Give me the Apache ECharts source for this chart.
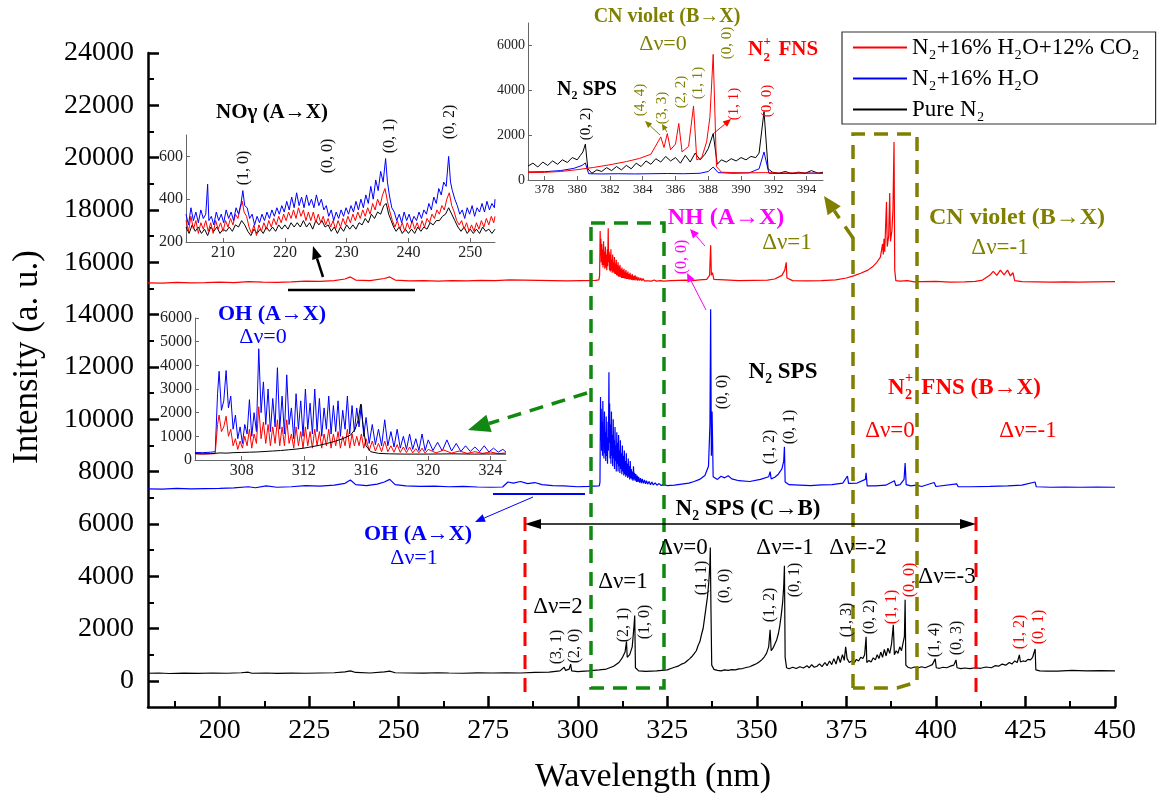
<!DOCTYPE html>
<html>
<head>
<meta charset="utf-8">
<script src="https://cdn.jsdelivr.net/npm/echarts@6/dist/echarts.min.js"></script>
<style>
  html, body { margin: 0; padding: 0; background: #fff; }
  #main { width: 1162px; height: 799px; }
</style>
</head>
<body>
<div id="main"></div>
<script>
// axis ticks
var wlTicks = [200, 225, 250, 275, 300, 325, 350, 375, 400, 425, 450];
var wlMinor = [187.5, 212.5, 237.5, 262.5, 287.5, 312.5, 337.5, 362.5, 387.5, 412.5, 437.5];
var intTicks = [0, 2000, 4000, 6000, 8000, 10000, 12000, 14000, 16000, 18000, 20000, 22000, 24000];
var intMinor = [1000, 3000, 5000, 7000, 9000, 11000, 13000, 15000, 17000, 19000, 21000, 23000];
var noTicksX = [210, 220, 230, 240, 250];
var noTicksY = [200, 400, 600];
var ohTicksX = [308, 312, 316, 320, 324];
var ohTicksY = [0, 1000, 2000, 3000, 4000, 5000, 6000];
var cnTicksX = [378, 380, 382, 384, 386, 388, 390, 392, 394];
var cnTicksY = [0, 2000, 4000, 6000];

var names = ['N₂+16% H₂O+12% CO₂', 'N₂+16% H₂O', 'Pure N₂'];

// main spectra  [wavelength nm, intensity]
var co2Main = [[180,15210],[184,15200],[188,15230],[192,15210],[196,15220],[200,15240],[204,15220],[208,15260],[212,15240],[216,15230],[220,15250],[224,15280],[228,15270],[232,15300],[235,15360],[236.5,15440],[238,15320],[242,15300],[246,15380],[247.5,15440],[249,15320],[253,15290],[257,15300],[261,15280],[265,15300],[269,15290],[273,15310],[277,15300],[281,15330],[285,15320],[289,15310],[293,15300],[297,15290],[301,15300],[305,15310],[305.9,15330],[306.1,15500],[306.25,17200],[306.35,16300],[306.45,16900],[306.55,16000],[306.7,16700],[306.8,15900],[306.95,16500],[307.05,15800],[307.2,16800],[307.3,15900],[307.45,16400],[307.55,15750],[307.7,16600],[307.8,15800],[307.95,16300],[308.1,15700],[308.25,16500],[308.35,15850],[308.5,17300],[308.6,16000],[308.75,16400],[308.85,15700],[309.0,16300],[309.1,15650],[309.25,16500],[309.35,15700],[309.5,16100],[309.6,15600],[309.75,16300],[309.85,15650],[310.0,16000],[310.1,15600],[310.25,16200],[310.35,15550],[310.5,15950],[310.6,15550],[310.75,16100],[310.85,15500],[311.0,15900],[311.1,15500],[311.25,16000],[311.35,15450],[311.5,15850],[311.65,15450],[311.8,15900],[311.9,15450],[312.05,15750],[312.2,15400],[312.35,15800],[312.45,15400],[312.6,15700],[312.75,15400],[312.9,15750],[313.0,15380],[313.15,15650],[313.3,15380],[313.45,15700],[313.55,15360],[313.7,15600],[313.85,15360],[314.0,15650],[314.15,15350],[314.3,15550],[314.45,15340],[314.6,15600],[314.75,15340],[314.9,15500],[315.05,15330],[315.2,15550],[315.4,15320],[315.6,15480],[315.8,15320],[316.0,15500],[316.25,15310],[316.5,15450],[316.75,15300],[317.0,15420],[317.3,15300],[317.6,15400],[317.9,15290],[318.2,15380],[318.6,15290],[319.0,15360],[319.5,15290],[320,15340],[320.6,15280],[321.3,15320],[322,15280],[323,15300],[324,15280],[326,15300],[328,15310],[330,15320],[332,15300],[334,15330],[336,15350],[336.8,15500],[337.1,16650],[337.3,15500],[337.6,15600],[338,15350],[341,15330],[345,15300],[349,15310],[353,15320],[355,15360],[357,15500],[357.8,15700],[358.2,16000],[358.4,15400],[360,15300],[364,15290],[368,15300],[372,15330],[375,15400],[377,15480],[379,15580],[381,15700],[382.5,15850],[383.5,16000],[384.5,16200],[385.1,16700],[385.3,16300],[385.5,16900],[385.7,16400],[386.2,18300],[386.4,16600],[386.8,17000],[387.1,18650],[387.3,16800],[387.7,17200],[388.0,18000],[388.3,20600],[388.5,15700],[388.8,15300],[390,15280],[392,15300],[394,15250],[396,15260],[400,15270],[404,15240],[408,15250],[411,15270],[413,15320],[415,15500],[416,15650],[417,15500],[418,15700],[419,15520],[420,15700],[420.8,15480],[421.5,15600],[422,15300],[424,15260],[428,15250],[432,15240],[436,15250],[440,15240],[444,15250],[450,15260]];

var h2oMain = [[180,7340],[184,7330],[188,7360],[192,7340],[196,7350],[200,7360],[204,7380],[208,7420],[210,7380],[213,7450],[216,7400],[220,7420],[224,7460],[228,7440],[232,7480],[235,7550],[236.5,7680],[238,7500],[241,7460],[244,7520],[246,7600],[247.5,7700],[249,7500],[252,7450],[256,7430],[260,7440],[264,7420],[268,7430],[272,7410],[276,7400],[279,7410],[280.5,7600],[282,7560],[284,7620],[286,7540],[288,7580],[290,7500],[293,7460],[296,7450],[300,7420],[303,7430],[306.0,7450],[306.2,7600],[306.35,10850],[306.45,9200],[306.55,10400],[306.65,8800],[306.75,9900],[306.9,8600],[307.0,10700],[307.1,9000],[307.2,9700],[307.3,8500],[307.45,10300],[307.55,8700],[307.7,9500],[307.8,8400],[307.95,10100],[308.05,8600],[308.2,9300],[308.3,8300],[308.45,9900],[308.55,8800],[308.7,11800],[308.8,9100],[308.9,10600],[309.0,8500],[309.15,9800],[309.25,8300],[309.4,10300],[309.5,8600],[309.6,9400],[309.75,8200],[309.9,10000],[310.0,8500],[310.15,9200],[310.25,8100],[310.4,9700],[310.5,8400],[310.65,9000],[310.75,8000],[310.9,9500],[311.0,8300],[311.15,9100],[311.25,8000],[311.4,9400],[311.5,8200],[311.65,8800],[311.75,7950],[311.9,9200],[312.0,8100],[312.15,8700],[312.3,7900],[312.45,9000],[312.55,8000],[312.7,8600],[312.85,7850],[313.0,8800],[313.1,7900],[313.25,8400],[313.4,7800],[313.55,8700],[313.65,7850],[313.8,8300],[313.95,7750],[314.1,8500],[314.2,7800],[314.35,8200],[314.5,7700],[314.65,8400],[314.8,7750],[314.95,8100],[315.1,7700],[315.25,8000],[315.4,7650],[315.55,8200],[315.7,7700],[315.85,7950],[316.0,7650],[316.2,7900],[316.4,7600],[316.6,7850],[316.8,7600],[317.0,7800],[317.25,7580],[317.5,7750],[317.75,7560],[318.0,7720],[318.3,7550],[318.6,7680],[318.9,7530],[319.2,7650],[319.5,7520],[319.9,7620],[320.3,7500],[320.7,7600],[321.1,7490],[321.6,7570],[322.1,7480],[322.7,7540],[323.3,7470],[324,7520],[325,7460],[327,7480],[329,7520],[331,7560],[332.5,7620],[334,7700],[335.5,7850],[336.5,8200],[336.9,9800],[337.1,14200],[337.3,8600],[337.5,10300],[337.8,7800],[339,7700],[340,7820],[341,7760],[342,7840],[343,7720],[345,7650],[348,7620],[351,7700],[353.3,7800],[353.7,8000],[354,7720],[355,7780],[356,7900],[357,8100],[357.5,8400],[357.7,8950],[357.9,7600],[359,7500],[362,7480],[365,7460],[368,7490],[371,7500],[374,7560],[375.3,7830],[375.6,7550],[378,7560],[380.3,7700],[380.5,7950],[380.8,7450],[383,7450],[386,7480],[388.4,7650],[388.8,7460],[390,7500],[391.1,7700],[391.4,8330],[391.7,7500],[393,7450],[394.5,7480],[396,7430],[399.5,7580],[400,7430],[405.8,7530],[406.2,7420],[410,7420],[415,7430],[420,7450],[424,7480],[427.7,7600],[428,7420],[432,7400],[436,7410],[440,7400],[445,7410],[450,7400]];

var pureMain = [[180,290],[183,300],[186,280],[190,295],[194,285],[198,300],[202,290],[206,310],[208,330],[209,290],[213,300],[216,285],[220,295],[224,290],[228,300],[232,310],[235,340],[236.5,380],[238,320],[242,300],[246,340],[247.5,370],[249,310],[253,300],[257,295],[261,310],[264,300],[268,290],[272,305],[276,300],[280,310],[284,300],[288,320],[292,330],[295,380],[296.2,520],[296.6,400],[297.6,450],[298,640],[298.3,380],[300,350],[303,380],[306,420],[308,450],[310,560],[311.5,700],[312.5,900],[313.2,1100],[313.6,1500],[313.8,900],[314.5,1000],[315.2,1300],[315.7,2100],[315.9,2500],[316.1,500],[317,380],[319,360],[322,380],[325,420],[326,470],[327,520],[328,560],[329,640],[329.8,680],[330.5,760],[331.2,840],[331.8,920],[332.5,1040],[333.1,1150],[333.6,1350],[334.1,1500],[334.6,1800],[335.0,2000],[335.4,2400],[335.8,2800],[336.2,3200],[336.6,3800],[336.9,4500],[337.0,5100],[337.2,2600],[337.4,600],[338,440],[339,400],[340,380],[341,420],[342,400],[343,430],[344,420],[345,460],[346,470],[347,510],[348,540],[349,600],[350,660],[350.8,740],[351.5,820],[352.1,920],[352.7,1050],[353.3,1300],[353.7,1950],[354,1150],[354.5,1250],[355,1400],[355.5,1550],[356,1800],[356.4,2100],[356.8,2500],[357.2,3000],[357.5,3600],[357.7,4400],[357.9,900],[358.3,500],[359,460],[360,520],[361,470],[362,540],[363,490],[364,580],[364.6,500],[365.3,620],[366,520],[366.8,560],[367.5,650],[368.2,540],[369,700],[369.6,580],[370.3,760],[370.9,620],[371.5,850],[372.1,640],[372.7,950],[373.3,700],[373.9,1000],[374.4,780],[374.8,1300],[375.2,850],[375.8,700],[376.5,760],[377.2,680],[377.8,820],[378.4,760],[379,900],[379.6,850],[380.1,1000],[380.5,1680],[380.7,700],[381.3,780],[381.9,720],[382.5,880],[383.1,800],[383.6,1000],[384.1,850],[384.6,1100],[385.1,900],[385.6,1200],[386.1,950],[386.6,1250],[387.1,1050],[387.6,1400],[388.1,2140],[388.4,1000],[388.9,1150],[389.4,1050],[389.9,1300],[390.4,1150],[390.9,1500],[391.2,1700],[391.4,3100],[391.6,600],[392.2,520],[393,480],[394,530],[395,490],[396,540],[397,500],[398,560],[399,620],[399.8,840],[400.1,500],[401,480],[402,520],[403,500],[404,560],[405,600],[405.6,800],[405.9,500],[407,470],[408,490],[409.5,470],[411,500],[412.5,480],[414,530],[415.5,500],[416.5,580],[417.5,560],[418.5,640],[419.5,600],[420.5,700],[421.2,640],[422,760],[422.7,700],[423.3,990],[423.6,720],[424.3,760],[425,740],[425.7,820],[426.4,800],[427,900],[427.7,1220],[427.9,420],[429,380],[431,370],[434,370],[438,400],[442,380],[446,390],[450,380]];

// inset NO gamma (204-254 nm)
var h2oNO = [[204.0,330],[204.4,280],[204.8,360],[205.2,300],[205.6,340],[206.0,290],[206.4,350],[206.8,310],[207.2,330],[207.5,470],[207.7,300],[208.1,320],[208.5,280],[208.9,340],[209.3,300],[209.7,330],[210.1,290],[210.5,350],[210.9,310],[211.3,340],[211.7,300],[212.1,360],[212.5,330],[212.9,380],[213.2,440],[213.5,370],[213.9,360],[214.3,310],[214.7,330],[215.1,280],[215.5,320],[215.9,290],[216.3,330],[216.7,300],[217.1,340],[217.5,310],[217.9,350],[218.3,320],[218.7,360],[219.1,330],[219.5,370],[219.9,340],[220.3,390],[220.7,350],[221.1,410],[221.5,360],[221.9,430],[222.3,370],[222.7,410],[223.1,360],[223.5,420],[223.9,370],[224.3,400],[224.7,360],[225.1,420],[225.5,370],[225.9,400],[226.3,350],[226.7,370],[227.1,320],[227.5,350],[227.9,300],[228.3,340],[228.7,310],[229.1,350],[229.5,320],[229.9,360],[230.3,330],[230.7,370],[231.1,340],[231.5,390],[231.9,350],[232.3,400],[232.7,360],[233.1,420],[233.5,380],[233.9,460],[234.3,400],[234.7,490],[235.1,440],[235.5,530],[235.9,480],[236.3,590],[236.6,480],[236.9,420],[237.3,360],[237.7,340],[238.1,300],[238.5,330],[238.9,290],[239.3,340],[239.7,300],[240.1,330],[240.5,290],[240.9,320],[241.3,300],[241.7,340],[242.1,310],[242.5,350],[242.9,330],[243.3,380],[243.7,350],[244.1,410],[244.5,380],[244.9,450],[245.3,420],[245.7,480],[246.1,460],[246.5,600],[246.8,480],[247.1,440],[247.5,400],[247.9,370],[248.3,330],[248.7,350],[249.1,310],[249.5,360],[249.9,330],[250.3,370],[250.7,320],[251.1,360],[251.5,340],[251.9,380],[252.3,340],[252.7,390],[253.1,350],[253.5,380],[253.9,360],[254.0,400]];
var co2NO = [[204.0,300],[204.4,250],[204.8,320],[205.2,260],[205.6,300],[206.0,240],[206.4,290],[206.8,260],[207.2,300],[207.6,250],[208.0,290],[208.4,240],[208.8,300],[209.2,260],[209.6,290],[210.0,250],[210.4,300],[210.8,270],[211.2,310],[211.6,280],[212.0,330],[212.4,310],[212.8,360],[213.1,390],[213.4,340],[213.8,320],[214.2,270],[214.6,240],[215.0,280],[215.4,230],[215.8,280],[216.2,250],[216.6,290],[217.0,260],[217.4,300],[217.8,270],[218.2,310],[218.6,280],[219.0,320],[219.4,290],[219.8,330],[220.2,300],[220.6,340],[221.0,310],[221.4,350],[221.8,310],[222.2,360],[222.6,320],[223.0,350],[223.4,300],[223.8,340],[224.2,300],[224.6,340],[225.0,290],[225.4,330],[225.8,290],[226.2,320],[226.6,280],[227.0,310],[227.4,270],[227.8,300],[228.2,260],[228.6,300],[229.0,270],[229.4,310],[229.8,280],[230.2,320],[230.6,290],[231.0,330],[231.4,300],[231.8,340],[232.2,310],[232.6,350],[233.0,320],[233.4,360],[233.8,330],[234.2,380],[234.6,350],[235.0,400],[235.4,370],[235.8,420],[236.2,450],[236.6,390],[237.0,340],[237.4,300],[237.8,270],[238.2,300],[238.6,260],[239.0,290],[239.4,250],[239.8,290],[240.2,260],[240.6,300],[241.0,260],[241.4,290],[241.8,260],[242.2,300],[242.6,270],[243.0,310],[243.4,290],[243.8,330],[244.2,310],[244.6,350],[245.0,330],[245.4,370],[245.8,350],[246.2,400],[246.6,430],[247.0,370],[247.4,340],[247.8,300],[248.2,280],[248.6,300],[249.0,260],[249.4,290],[249.8,250],[250.2,280],[250.6,250],[251.0,290],[251.4,260],[251.8,300],[252.2,270],[252.6,310],[253.0,280],[253.4,320],[253.8,290],[254.0,320]];
var pureNO = [[204.0,270],[204.5,240],[205.0,280],[205.5,250],[206.0,270],[206.5,240],[207.0,260],[207.5,230],[208.0,270],[208.5,250],[209.0,270],[209.5,240],[210.0,260],[210.5,250],[211.0,270],[211.5,250],[212.0,280],[212.5,270],[213.0,300],[213.5,280],[214.0,250],[214.5,230],[215.0,260],[215.5,240],[216.0,260],[216.5,240],[217.0,270],[217.5,250],[218.0,270],[218.5,250],[219.0,280],[219.5,260],[220.0,280],[220.5,260],[221.0,290],[221.5,270],[222.0,290],[222.5,270],[223.0,300],[223.5,270],[224.0,290],[224.5,260],[225.0,300],[225.5,280],[226.0,300],[226.5,270],[227.0,280],[227.5,250],[228.0,270],[228.5,240],[229.0,270],[229.5,250],[230.0,280],[230.5,260],[231.0,280],[231.5,260],[232.0,290],[232.5,280],[233.0,310],[233.5,290],[234.0,330],[234.5,310],[235.0,340],[235.5,330],[236.0,370],[236.4,380],[236.8,330],[237.2,300],[237.6,270],[238.0,250],[238.5,270],[239.0,240],[239.5,260],[240.0,240],[240.5,260],[241.0,240],[241.5,270],[242.0,250],[242.5,270],[243.0,260],[243.5,290],[244.0,280],[244.5,300],[245.0,300],[245.5,320],[246.0,330],[246.5,360],[247.0,330],[247.5,300],[248.0,270],[248.5,250],[249.0,270],[249.5,240],[250.0,260],[250.5,240],[251.0,260],[251.5,240],[252.0,270],[252.5,250],[253.0,260],[253.5,240],[254.0,260]];

// inset OH A-X (305-325 nm)
var h2oOH = [[305,320],[305.5,310],[306,330],[306.3,350],[306.45,2800],[306.55,3750],[306.7,2100],[306.85,2500],[307.0,3780],[307.15,2200],[307.3,2700],[307.45,1300],[307.6,1900],[307.75,900],[307.9,1400],[308.05,700],[308.2,1500],[308.35,1100],[308.5,2550],[308.65,1000],[308.8,2000],[308.95,1200],[309.1,4700],[309.25,2000],[309.4,3300],[309.55,1500],[309.7,3000],[309.85,1200],[310.0,2600],[310.15,1400],[310.3,3900],[310.45,1300],[310.6,2700],[310.75,1100],[310.9,3600],[311.05,1500],[311.2,2200],[311.35,900],[311.5,2800],[311.65,1300],[311.8,2500],[311.95,1000],[312.1,3000],[312.25,1300],[312.4,2400],[312.55,1100],[312.7,3000],[312.85,1200],[313.0,2600],[313.15,1000],[313.3,2200],[313.45,1300],[313.6,2700],[313.75,1100],[313.9,2300],[314.05,1200],[314.2,2500],[314.35,1000],[314.5,2100],[314.65,1300],[314.8,2700],[314.95,1100],[315.1,2300],[315.25,1200],[315.4,2200],[315.55,1400],[315.7,2350],[315.85,1000],[316.0,1800],[316.2,700],[316.4,1500],[316.6,650],[316.8,1300],[317.0,600],[317.2,1700],[317.4,600],[317.6,1200],[317.8,550],[318.0,1300],[318.2,500],[318.4,1000],[318.6,450],[318.8,1100],[319.0,450],[319.2,900],[319.4,400],[319.6,1100],[319.8,400],[320.0,850],[320.3,400],[320.6,750],[320.9,380],[321.2,850],[321.5,380],[321.8,700],[322.1,360],[322.4,600],[322.7,360],[323.0,550],[323.3,350],[323.6,600],[323.9,340],[324.2,500],[324.5,330],[324.8,450],[325,330]];
var co2OH = [[305,260],[305.5,250],[306,260],[306.3,270],[306.45,1500],[306.55,1900],[306.7,1200],[306.85,1400],[307.0,1850],[307.15,1000],[307.3,1300],[307.45,600],[307.6,900],[307.75,450],[307.9,800],[308.05,500],[308.2,1000],[308.35,600],[308.5,1300],[308.65,500],[308.8,1100],[308.95,700],[309.1,2250],[309.25,900],[309.4,1600],[309.55,700],[309.7,1500],[309.85,600],[310.0,1400],[310.15,700],[310.3,1700],[310.45,600],[310.6,1400],[310.75,600],[310.9,1700],[311.05,700],[311.2,1100],[311.35,500],[311.5,1400],[311.65,600],[311.8,1200],[311.95,500],[312.1,1400],[312.25,600],[312.4,1200],[312.55,500],[312.7,1300],[312.85,600],[313.0,1200],[313.15,500],[313.3,1100],[313.45,600],[313.6,1300],[313.75,500],[313.9,1100],[314.05,600],[314.2,1200],[314.35,500],[314.5,1000],[314.65,600],[314.8,1300],[314.95,500],[315.1,1100],[315.25,600],[315.4,1000],[315.55,600],[315.7,1100],[315.85,500],[316.0,900],[316.2,400],[316.4,800],[316.6,380],[316.8,700],[317.0,350],[317.2,800],[317.4,350],[317.6,600],[317.8,330],[318.0,650],[318.2,320],[318.4,550],[318.6,310],[318.8,550],[319.0,300],[319.2,480],[319.4,300],[319.6,500],[319.8,290],[320.0,450],[320.5,300],[321,420],[321.5,290],[322,380],[322.5,280],[323,350],[323.5,280],[324,340],[324.5,270],[325,300]];
var pureOH = [[305,270],[305.5,260],[306,270],[306.3,280],[306.6,300],[307,290],[307.5,310],[308,320],[308.5,330],[309,340],[309.5,360],[310,380],[310.5,400],[311,430],[311.5,460],[312,500],[312.5,560],[313,620],[313.5,700],[314,790],[314.5,900],[315,1050],[315.3,1300],[315.5,1700],[315.65,2350],[315.8,1500],[316.0,600],[316.3,350],[316.8,280],[317.5,260],[318.5,250],[320,250],[321.5,260],[323,250],[324,255],[325,250]];

// inset CN violet (377-395 nm)
var pureCN = [[377,620],[377.3,750],[377.6,580],[377.9,800],[378.2,650],[378.5,850],[378.8,700],[379.1,900],[379.4,780],[379.7,1000],[380.0,900],[380.2,1100],[380.35,1250],[380.5,1600],[380.65,500],[380.9,300],[381.2,450],[381.5,380],[381.8,550],[382.1,420],[382.4,600],[382.7,450],[383.0,650],[383.3,500],[383.6,750],[383.9,600],[384.2,850],[384.5,700],[384.8,950],[385.1,800],[385.4,1050],[385.7,850],[386.0,1000],[386.3,750],[386.6,1100],[386.9,800],[387.2,1200],[387.5,900],[387.8,1150],[388.0,1400],[388.3,2070],[388.55,700],[388.8,900],[389.1,800],[389.4,950],[389.7,850],[390.0,1000],[390.3,900],[390.6,1050],[390.9,1000],[391.1,1200],[391.4,3050],[391.65,500],[391.9,350],[392.3,300],[392.7,380],[393.1,280],[393.5,350],[393.9,300],[394.3,420],[394.7,300],[395,350]];
var h2oCN = [[377,360],[378,370],[379,420],[379.8,520],[380.3,650],[380.5,760],[380.7,280],[381.5,270],[382.5,280],[383.5,270],[384.5,280],[385.5,290],[386.5,280],[387.5,300],[388.0,380],[388.3,580],[388.6,330],[389.5,300],[390.5,320],[391.1,500],[391.4,1250],[391.7,300],[392.5,290],[393.5,300],[394.5,310],[395,300]];
var co2CN = [[377,330],[378,340],[379,380],[380,460],[381,560],[382,680],[383,820],[383.8,960],[384.5,1150],[385.1,1920],[385.3,1450],[385.5,2070],[385.7,1350],[386.0,1600],[386.2,2520],[386.4,1250],[386.8,1500],[387.1,3300],[387.3,900],[387.6,1000],[387.9,1700],[388.1,2800],[388.3,5600],[388.5,600],[388.8,350],[389.5,330],[390.5,320],[391.5,330],[392.5,310],[393.5,320],[394.5,300],[395,310]];

var SERIF = '"Liberation Serif", "Times New Roman", serif';
var RED = '#ff0000', BLUE = '#0000ff', BLACK = '#000000';
var OLIVE = '#808000', GREEN = '#118811', MAGENTA = '#ff00ff';

function plain(v) { return String(v); }

function line(name, data, xi, yi, color, w) {
  return {
    name: name, type: 'line', data: data, xAxisIndex: xi, yAxisIndex: yi,
    showSymbol: false, symbol: 'none', animation: false,
    lineStyle: { color: color, width: w }, itemStyle: { color: color }
  };
}

function mainAxis(dim, min, max, ticks, minor, isMinor) {
  return {
    type: 'value', gridIndex: 0, min: min, max: max,
    position: dim === 'x' ? 'bottom' : 'left',
    splitLine: { show: false },
    axisLine: { show: !isMinor, onZero: false, lineStyle: { color: '#000', width: 2.5 } },
    axisTick: { inside: true, customValues: isMinor ? minor : ticks, length: isMinor ? 6 : 11,
      lineStyle: { color: '#000', width: isMinor ? 2 : 2.5 } },
    axisLabel: { show: !isMinor, customValues: ticks, formatter: plain, fontSize: 28,
      fontFamily: SERIF, color: '#000', margin: dim === 'x' ? 10 : 14 }
  };
}

function insetAxis(dim, grid, min, max, ticks, size) {
  return {
    type: 'value', gridIndex: grid, min: min, max: max,
    position: dim === 'x' ? 'bottom' : 'left',
    splitLine: { show: false },
    axisLine: { onZero: false, lineStyle: { color: '#666', width: 1 } },
    axisTick: { inside: true, length: 4, customValues: ticks, lineStyle: { color: '#666' } },
    axisLabel: { customValues: ticks, formatter: plain, fontSize: size, fontFamily: SERIF,
      color: '#222', margin: 3 }
  };
}

function txt(x, y, text, color, size, bold, rot) {
  return {
    type: 'text', x: x, y: y, rotation: rot ? Math.PI / 2 : 0, z: 100,
    style: { text: text, fill: color, fontSize: size, fontFamily: SERIF,
      fontWeight: bold ? 'bold' : 'normal', align: 'center', verticalAlign: 'middle' }
  };
}

function n2plus(x, y, rest, color, size) {
  var s = size * 0.62;
  return [
    { type: 'text', x: x, y: y, z: 100, style: { text: 'N', fill: color, fontSize: size, fontFamily: SERIF, fontWeight: 'bold', align: 'left', verticalAlign: 'middle' } },
    { type: 'text', x: x + size * 0.74, y: y - size * 0.4, z: 100, style: { text: '+', fill: color, fontSize: s, fontFamily: SERIF, fontWeight: 'bold', align: 'left', verticalAlign: 'middle' } },
    { type: 'text', x: x + size * 0.74, y: y + size * 0.34, z: 100, style: { text: '2', fill: color, fontSize: s, fontFamily: SERIF, fontWeight: 'bold', align: 'left', verticalAlign: 'middle' } },
    { type: 'text', x: x + size * 1.45, y: y, z: 100, style: { text: rest, fill: color, fontSize: size, fontFamily: SERIF, fontWeight: 'bold', align: 'left', verticalAlign: 'middle' } }
  ];
}

function arrow(x1, y1, x2, y2, color, w, len, half, dash) {
  var a = Math.atan2(y2 - y1, x2 - x1);
  var bx = x2 - len * Math.cos(a), by = y2 - len * Math.sin(a);
  var px = -Math.sin(a) * half, py = Math.cos(a) * half;
  return [
    { type: 'line', z: 100, shape: { x1: x1, y1: y1, x2: bx, y2: by },
      style: { stroke: color, lineWidth: w, lineDash: dash || null } },
    { type: 'polygon', z: 100, shape: { points: [[x2, y2], [bx + px, by + py], [bx - px, by - py]] },
      style: { fill: color } }
  ];
}

function seg(x1, y1, x2, y2, color, w, dash) {
  return { type: 'line', z: 100, shape: { x1: x1, y1: y1, x2: x2, y2: y2 },
    style: { stroke: color, lineWidth: w, lineDash: dash || null } };
}

var graphics = [
  // axis names
  txt(28, 357, 'Intensity (a. u.)', '#000', 35, false, true),
  txt(653, 777, 'Wavelength (nm)', '#000', 34, false, false),

  // NO inset annotations
  txt(272, 113, 'NOγ (A→X)', '#000', 21, true),
  txt(244, 168, '(1, 0)', '#111', 16, false, true),
  txt(328, 156, '(0, 0)', '#111', 16, false, true),
  txt(390, 136, '(0, 1)', '#111', 16, false, true),
  txt(450, 122, '(0, 2)', '#111', 16, false, true),
  seg(288, 290, 415, 290, '#000', 2.5),

  // OH inset annotations
  txt(272, 314, 'OH (A→X)', BLUE, 22, true),
  txt(263, 337, 'Δν=0', BLUE, 22, false),

  // CN inset annotations
  txt(667, 17, 'CN violet (B→X)', OLIVE, 20, true),
  txt(663, 44, 'Δν=0', OLIVE, 22, false),
  txt(587, 90, 'N₂ SPS', '#000', 20, true),
  txt(586, 124, '(0, 2)', '#000', 15, false, true),
  txt(640, 100, '(4, 4)', OLIVE, 15, false, true),
  txt(662, 108, '(3, 3)', OLIVE, 15, false, true),
  txt(681, 92, '(2, 2)', OLIVE, 15, false, true),
  txt(698, 83, '(1, 1)', OLIVE, 15, false, true),
  txt(727, 43, '(0, 0)', OLIVE, 15, false, true),
  txt(734, 104, '(1, 1)', RED, 15, false, true),
  txt(767, 101, '(0, 0)', RED, 15, false, true),

  // main annotations
  txt(726, 218, 'NH (A→X)', MAGENTA, 24, true),
  txt(682, 257, '(0, 0)', MAGENTA, 16, false, true),
  txt(787, 243, 'Δν=1', OLIVE, 23, false),
  txt(1017, 218, 'CN violet (B→X)', OLIVE, 24, true),
  txt(1000, 248, 'Δν=-1', OLIVE, 23, false),
  txt(783, 372, 'N₂ SPS', '#000', 23, true),
  txt(723, 392, '(0, 0)', '#111', 16, false, true),
  txt(770, 447, '(1, 2)', '#111', 16, false, true),
  txt(790, 427, '(0, 1)', '#111', 16, false, true),
  txt(890, 431, 'Δν=0', RED, 23, false),
  txt(1028, 431, 'Δν=-1', RED, 23, false),
  txt(418, 534, 'OH (A→X)', BLUE, 22, true),
  txt(414, 558, 'Δν=1', BLUE, 22, false),
  seg(493, 494, 585, 494, BLUE, 2),
  txt(748, 509, 'N₂ SPS (C→B)', '#000', 23, true),
  txt(558, 607, 'Δν=2', '#000', 23, false),
  txt(623, 582, 'Δν=1', '#000', 23, false),
  txt(683, 548, 'Δν=0', '#000', 23, false),
  txt(785, 548, 'Δν=-1', '#000', 23, false),
  txt(858, 548, 'Δν=-2', '#000', 23, false),
  txt(947, 577, 'Δν=-3', '#000', 23, false),
  txt(557, 647, '(3, 1)', '#111', 16, false, true),
  txt(575, 646, '(2, 0)', '#111', 16, false, true),
  txt(624, 625, '(2, 1)', '#111', 16, false, true),
  txt(645, 622, '(1, 0)', '#111', 16, false, true),
  txt(702, 578, '(1, 1)', '#111', 16, false, true),
  txt(725, 586, '(0, 0)', '#111', 16, false, true),
  txt(770, 605, '(1, 2)', '#111', 16, false, true),
  txt(795, 580, '(0, 1)', '#111', 16, false, true),
  txt(847, 620, '(1, 3)', '#111', 16, false, true),
  txt(870, 617, '(0, 2)', '#111', 16, false, true),
  txt(892, 607, '(1, 1)', RED, 16, false, true),
  txt(910, 580, '(0, 0)', RED, 16, false, true),
  txt(935, 640, '(1, 4)', '#111', 16, false, true),
  txt(957, 638, '(0, 3)', '#111', 16, false, true),
  txt(1020, 632, '(1, 2)', RED, 16, false, true),
  txt(1039, 627, '(0, 1)', RED, 16, false, true),

  // dashed frames
  { type: 'rect', z: 99, shape: { x: 591, y: 223, width: 73, height: 465 },
    style: { fill: 'none', stroke: GREEN, lineWidth: 3.5, lineDash: [14, 9] } },
  { type: 'polyline', z: 99, shape: { points: [[853, 688], [853, 134], [917, 134], [917, 682], [897, 688], [853, 688]] },
    style: { fill: 'none', stroke: OLIVE, lineWidth: 3.5, lineDash: [14, 9] } },
  seg(525, 517, 525, 697, RED, 3, [14, 9]),
  seg(976, 517, 976, 697, RED, 3, [14, 9])
];

graphics = graphics
  .concat(n2plus(888, 388, 'FNS (B→X)', RED, 23))
  .concat(n2plus(748, 50, 'FNS', RED, 21))
  .concat(arrow(323, 277, 313, 246, '#000', 2.5, 13, 5))
  .concat(arrow(587, 393, 468, 430, GREEN, 3.5, 22, 9, [14, 9]))
  .concat(arrow(853, 238, 824, 196, OLIVE, 3.5, 18, 8, [14, 10]))
  .concat(arrow(533, 497, 475, 522, BLUE, 1, 10, 4))
  .concat(arrow(705, 246, 690, 229, MAGENTA, 1, 9, 4))
  .concat(arrow(706, 310, 687, 273, MAGENTA, 1, 9, 4))
  .concat(arrow(660, 135, 645, 121, OLIVE, 1, 7, 3))
  .concat(arrow(667, 132, 662, 124, OLIVE, 1, 6, 3))
  .concat(arrow(713, 134, 731, 119, RED, 1, 8, 3.5))
  .concat(arrow(700, 524, 525, 524, '#000', 1.5, 16, 5))
  .concat(arrow(700, 524, 976, 524, '#000', 1.5, 16, 5));

var chart = echarts.init(document.getElementById('main'));
var option = {
  animation: false,
  backgroundColor: '#fff',
  grid: [
    { left: 148, top: 53, width: 967, height: 654 },
    { left: 186, top: 135, width: 309, height: 107 },
    { left: 195, top: 318, width: 311, height: 142 },
    { left: 528, top: 23, width: 295, height: 157 }
  ],
  xAxis: [
    mainAxis('x', 180, 450, wlTicks, wlMinor, false),
    mainAxis('x', 180, 450, wlTicks, wlMinor, true),
    insetAxis('x', 1, 204, 254, noTicksX, 16),
    insetAxis('x', 2, 305, 325, ohTicksX, 16),
    insetAxis('x', 3, 377, 395, cnTicksX, 13)
  ],
  yAxis: [
    mainAxis('y', -1000, 24000, intTicks, intMinor, false),
    mainAxis('y', -1000, 24000, intTicks, intMinor, true),
    insetAxis('y', 1, 200, 700, noTicksY, 16),
    insetAxis('y', 2, 0, 6000, ohTicksY, 16),
    insetAxis('y', 3, 0, 7000, cnTicksY, 14)
  ],
  legend: {
    left: 842, top: 32, orient: 'vertical',
    itemWidth: 54, itemHeight: 2, itemGap: 8, icon: 'rect',
    padding: [4, 16, 3, 11],
    borderColor: '#333', borderWidth: 1.2,
    textStyle: { fontSize: 23, fontFamily: SERIF, color: '#000', lineHeight: 23 },
    data: names
  },
  series: [
    line(names[0], co2Main, 0, 0, RED, 1.2),
    line(names[1], h2oMain, 0, 0, BLUE, 1.2),
    line(names[2], pureMain, 0, 0, BLACK, 1.2),
    line(names[2], pureNO, 2, 2, BLACK, 1),
    line(names[0], co2NO, 2, 2, RED, 1),
    line(names[1], h2oNO, 2, 2, BLUE, 1),
    line(names[1], h2oOH, 3, 3, BLUE, 1),
    line(names[0], co2OH, 3, 3, RED, 1),
    line(names[2], pureOH, 3, 3, BLACK, 1),
    line(names[1], h2oCN, 4, 4, BLUE, 1),
    line(names[2], pureCN, 4, 4, BLACK, 1),
    line(names[0], co2CN, 4, 4, RED, 1)
  ],
  graphic: graphics
};
chart.setOption(option);
</script>
</body>
</html>
